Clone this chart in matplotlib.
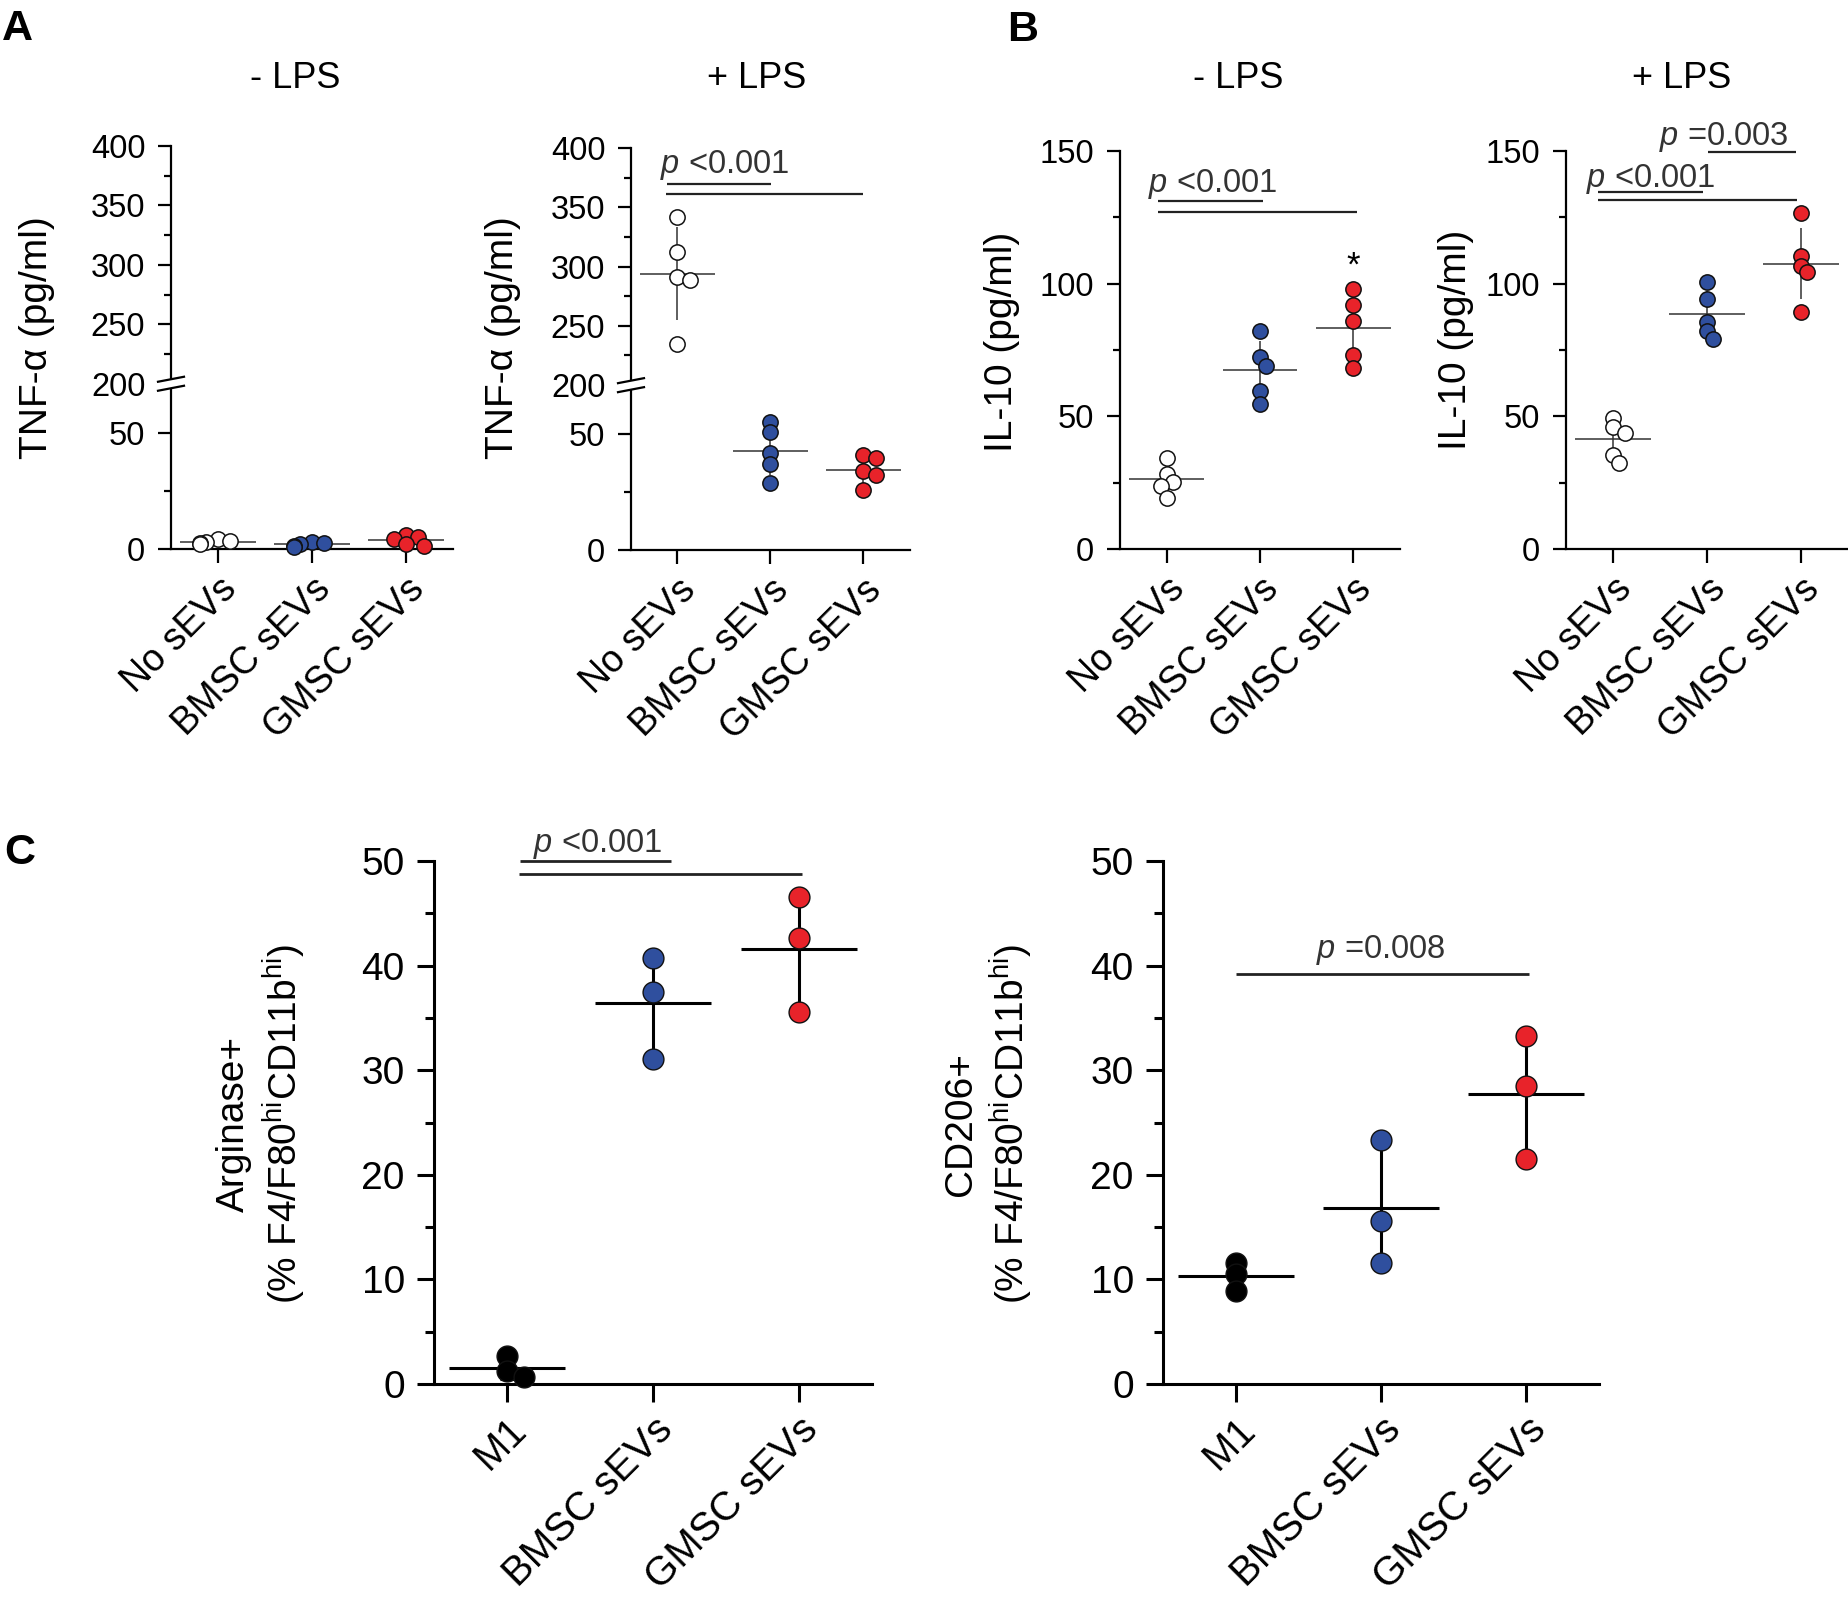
import numpy as np
import matplotlib.pyplot as plt
from matplotlib.patches import Polygon

plt.rcParams['font.family'] = ['Liberation Sans', 'DejaVu Sans']
plt.rcParams['mathtext.fontset'] = 'custom'
plt.rcParams['mathtext.rm'] = 'Liberation Sans'
plt.rcParams['mathtext.it'] = 'Liberation Sans:italic'
plt.rcParams['mathtext.bf'] = 'Liberation Sans:bold'

# ---- data ----
groups_lps = ['No sEVs', 'BMSC sEVs', 'GMSC sEVs']
groups_mac = ['M1', 'BMSC sEVs', 'GMSC sEVs']

tnf_no_lps = [[4.5, 3.5, 3.0, 2.5, 2.0], [3.0, 2.5, 2.0, 1.5, 1.0], [6.0, 5.0, 4.5, 2.0, 1.5]]
tnf_lps = [[342, 312, 291, 289, 235], [55, 51, 42, 37, 29], [41, 39.5, 34, 32.5, 26]]
il10_no_lps = [[34.4, 28.3, 25.2, 23.8, 19.4], [82.3, 72.2, 69.1, 59.4, 54.5], [98, 92, 85.9, 73.1, 68.2]]
il10_lps = [[49.5, 45.9, 43.9, 35.3, 32.5], [100.5, 94.3, 85.6, 82.3, 79.2], [126.5, 110.6, 106.6, 104.4, 89.2]]
arginase = [[2.7, 1.2, 0.7], [40.7, 37.5, 31.1], [46.6, 42.6, 35.6]]
cd206 = [[11.6, 10.5, 8.9], [23.3, 15.6, 11.6], [33.3, 28.5, 21.5]]

tnf_ticks = [0, 50, 200, 250, 300, 350, 400]
tnf_minor = [25, 225, 275, 325, 375]
il10_ticks = [0, 50, 100, 150]
il10_minor = [25, 75, 125]
pct_ticks = [0, 10, 20, 30, 40, 50]
pct_minor = [5, 15, 25, 35, 45]

BLUE = '#2f4f9e'
RED = '#e8232a'

W, H = 1849, 1612
fig = plt.figure(figsize=(W / 100, H / 100), dpi=100)


def make_ax(left, right, top, bottom):
    return fig.add_axes([left / W, 1 - bottom / H, (right - left) / W, (bottom - top) / H])


def ftext(x, y, s, **kw):
    fig.text(x / W, 1 - y / H, s, **kw)


# broken y axis for TNF-a: 0..71 in the lower 41 %, 200..400 above
BRK_LO, BRK_HI, FRAC, EPS = 71.0, 200.0, 0.41, 1e-4


def fwd(y):
    y = np.asarray(y, float)
    lo = y / BRK_LO * FRAC
    mid = FRAC + (y - BRK_LO) / (BRK_HI - BRK_LO) * EPS
    hi = FRAC + EPS + (y - BRK_HI) / 200.0 * (1 - FRAC - EPS)
    return np.where(y <= BRK_LO, lo, np.where(y < BRK_HI, mid, hi))


def inv(v):
    v = np.asarray(v, float)
    lo = v / FRAC * BRK_LO
    mid = BRK_LO + (v - FRAC) / EPS * (BRK_HI - BRK_LO)
    hi = BRK_HI + (v - FRAC - EPS) / (1 - FRAC - EPS) * 200.0
    return np.where(v <= FRAC, lo, np.where(v < FRAC + EPS, mid, hi))


def style_ax(ax, labels, big=False):
    lw = 2.2 if big else 1.6
    for s in ['top', 'right']:
        ax.spines[s].set_visible(False)
    for s in ['left', 'bottom']:
        ax.spines[s].set_linewidth(lw)
    ax.set_xlim(-0.5, 2.5)
    ax.set_xticks(range(3))
    ax.set_xticklabels(labels, rotation=45, ha='right', va='top',
                       rotation_mode='anchor', fontsize=29 if big else 27)
    ax.tick_params(axis='x', length=13 if big else 10, width=lw, pad=6)
    ax.tick_params(axis='y', which='major', length=12 if big else 9.5, width=lw,
                   labelsize=28 if big else 23.5, pad=9)
    ax.tick_params(axis='y', which='minor', length=6.5 if big else 5, width=lw)
    ax.patch.set_alpha(0)


def set_yticks(ax, major, minor):
    ax.set_yticks(major)
    ax.set_yticklabels([str(t) for t in major])
    ax.set_yticks(minor, minor=True)
    ax.set_yticklabels([], minor=True)


def swarm(ax, vals, xc, d_px):
    # nudge overlapping points sideways, in pixel space
    pts = ax.transData.transform(np.column_stack([np.full(len(vals), xc), vals]))
    ypx = pts[:, 1]
    px_x = ax.transData.transform([[1, 0]])[0, 0] - ax.transData.transform([[0, 0]])[0, 0]
    offs = np.zeros(len(vals))
    placed = []
    for i in np.argsort(-np.asarray(vals)):
        for k in [0, 1, -1, 2, -2, 3, -3]:
            dx = k * d_px * 0.4
            if all((dx - px) ** 2 + (ypx[i] - py) ** 2 >= (0.55 * d_px) ** 2 for px, py in placed):
                break
        placed.append((dx, ypx[i]))
        offs[i] = dx / px_x
    return offs


def draw_groups(ax, data, faces, ms, mean_lw, err_lw, line_col, cap, edge_lw):
    for i, vals in enumerate(data):
        v = np.asarray(vals, float)
        m, sd = v.mean(), v.std(ddof=1)
        ax.errorbar(i, m, yerr=sd, fmt='none', ecolor=line_col, elinewidth=err_lw,
                    capsize=cap, capthick=err_lw, zorder=2)
        ax.plot([i - 0.4, i + 0.4], [m, m], color=line_col, lw=mean_lw, zorder=2,
                solid_capstyle='butt')
        offs = swarm(ax, v, i, ms * 100 / 72)
        ax.scatter(i + offs, v, s=ms ** 2, c=faces[i], edgecolors='#111111',
                   linewidths=edge_lw, zorder=3, clip_on=False)


def bracket(ax, x0, x1, y, lw=1.6):
    ax.plot([x0, x1], [y, y], color='#222222', lw=lw, clip_on=False, solid_capstyle='butt')


def ptext(ax, s, x, y, size=23.5):
    ax.text(x, y, r'$\mathit{p}$ ' + s, ha='center', va='baseline', fontsize=size,
            color='#333333', clip_on=False)


def break_mark(ax):
    bb = ax.get_position()
    wpx, hpx = bb.width * W, bb.height * H
    hx, rise, gap = 13 / wpx, 2.5 / hpx, 4.5 / hpx
    yc = FRAC + EPS / 2
    poly = Polygon([[-hx, yc - gap - rise], [hx, yc - gap + rise],
                    [hx, yc + gap + rise], [-hx, yc + gap - rise]],
                   closed=True, transform=ax.transAxes, facecolor='white',
                   edgecolor='none', clip_on=False, zorder=5)
    ax.add_patch(poly)
    for sgn in (-1, 1):
        ax.plot([-hx, hx], [yc + sgn * gap - rise, yc + sgn * gap + rise],
                transform=ax.transAxes, color='black', lw=1.6, clip_on=False, zorder=6)


faces_lps = ['white', BLUE, RED]
faces_mac = ['black', BLUE, RED]

# ---- panel A ----
for axpos, data in [((171, 453, 146, 549), tnf_no_lps), ((631, 910, 148, 550), tnf_lps)]:
    ax = make_ax(*axpos)
    ax.set_yscale('function', functions=(fwd, inv))
    ax.set_ylim(0, 400)
    style_ax(ax, groups_lps)
    set_yticks(ax, tnf_ticks, tnf_minor)
    break_mark(ax)
    draw_groups(ax, data, faces_lps, 11, 1.1, 1.1, '#333333', 0, 1.1)
    if data is tnf_lps:
        bracket(ax, -0.11, 1.01, 370)
        bracket(ax, -0.12, 2.0, 361)
        ptext(ax, '<0.001', 0.51, 378.5)

# ---- panel B ----
axB1 = make_ax(1120, 1400, 151, 549)
axB2 = make_ax(1566, 1848, 151, 549)
for ax, data in [(axB1, il10_no_lps), (axB2, il10_lps)]:
    ax.set_ylim(0, 150)
    style_ax(ax, groups_lps)
    set_yticks(ax, il10_ticks, il10_minor)
    draw_groups(ax, data, faces_lps, 11, 1.1, 1.1, '#333333', 0, 1.1)

bracket(axB1, -0.09, 1.03, 131.3)
bracket(axB1, -0.09, 2.04, 127)
ptext(axB1, '<0.001', 0.49, 134.5)
axB1.text(2, 103, '*', ha='center', va='baseline', fontsize=25)

bracket(axB2, -0.16, 0.96, 134.5)
bracket(axB2, -0.16, 1.96, 131.6)
bracket(axB2, 1.01, 1.95, 149.7)
ptext(axB2, '<0.001', 0.40, 136.5)
ptext(axB2, '=0.003', 1.18, 152.3)

# ---- panel C ----
axC1 = make_ax(434, 872, 861, 1384)
axC2 = make_ax(1163, 1599, 861, 1384)
for ax, data in [(axC1, arginase), (axC2, cd206)]:
    ax.set_ylim(0, 50)
    style_ax(ax, groups_mac, big=True)
    set_yticks(ax, pct_ticks, pct_minor)
    draw_groups(ax, data, faces_mac, 15, 2.2, 2.2, 'black', 5, 1.0)

bracket(axC1, 0.09, 1.12, 50.0, 2.0)
bracket(axC1, 0.08, 2.02, 48.8, 2.0)
ptext(axC1, '<0.001', 0.62, 50.9)
bracket(axC2, 0.0, 2.02, 39.2, 2.0)
ptext(axC2, '=0.008', 1.0, 40.7)

# ---- titles, axis labels, panel letters ----
for x, s in [(295, '- LPS'), (757, '+ LPS'), (1238, '- LPS'), (1682, '+ LPS')]:
    ftext(x, 88, s, ha='center', va='baseline', fontsize=26)

for x, y, s in [(37, 338, 'TNF-α (pg/ml)'), (503, 338, 'TNF-α (pg/ml)'),
                (1002, 342, 'IL-10 (pg/ml)'), (1456, 340, 'IL-10 (pg/ml)')]:
    ftext(x, y, s, rotation=90, ha='center', va='center', fontsize=28)

sub = r'(% F4/F80$^{\mathrm{hi}}$CD11b$^{\mathrm{hi}}$)'
ftext(262, 1124, 'Arginase+\n' + sub, rotation=90, ha='center', va='center',
      fontsize=28, multialignment='center', linespacing=1.25)
ftext(989, 1124, 'CD206+\n' + sub, rotation=90, ha='center', va='center',
      fontsize=28, multialignment='center', linespacing=1.25)

for x, y, s in [(2, 40, 'A'), (1007, 41, 'B'), (4, 864, 'C')]:
    ftext(x, y, s, ha='left', va='baseline', fontsize=31, fontweight='bold')

fig.savefig('out.png', dpi=100)
